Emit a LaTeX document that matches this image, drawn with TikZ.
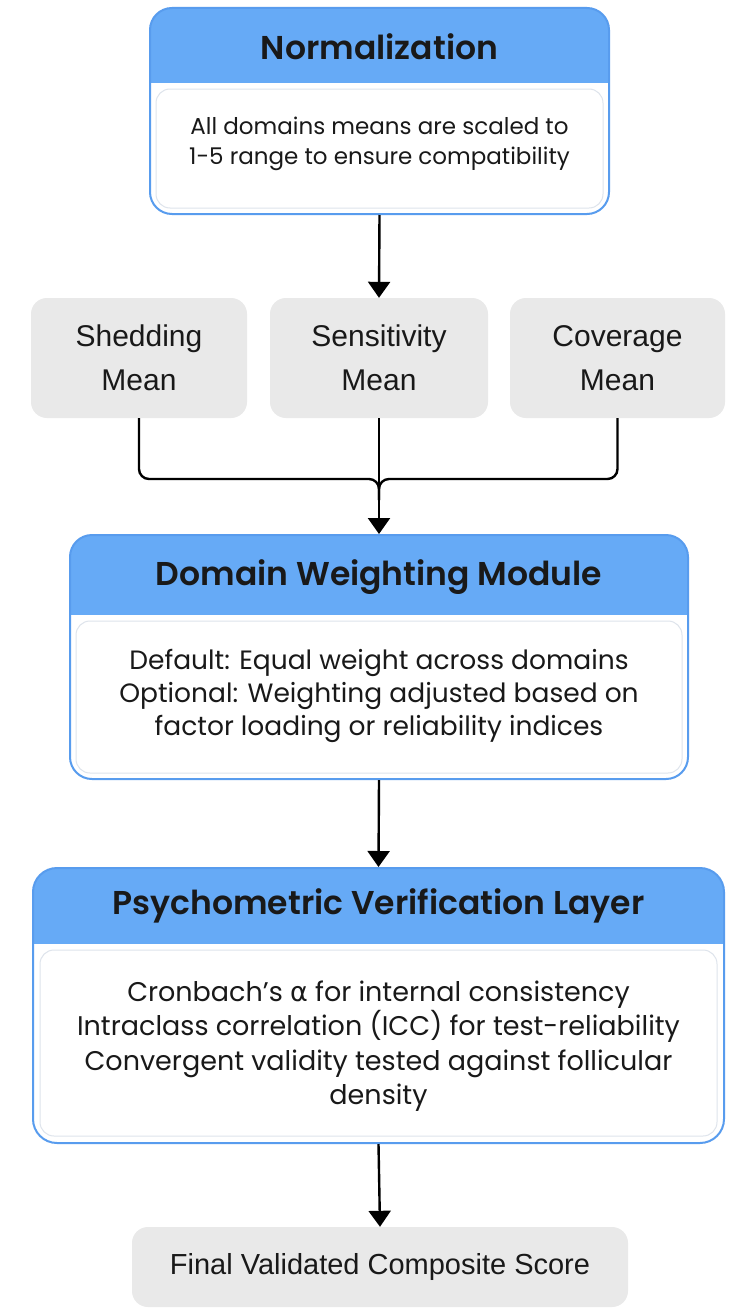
\documentclass[tikz,border=0pt]{standalone}
\usepackage{fontspec}
\usetikzlibrary{arrows.meta}
\setmainfont{Poppins}
\newfontfamily\headfont{Poppins SemiBold}
\newfontfamily\grayfont{Liberation Sans}
\newfontfamily\grkfont{DejaVu Sans}
\definecolor{headblue}{RGB}{102,170,246}
\definecolor{bordblue}{RGB}{88,156,238}
\definecolor{boxgray}{RGB}{233,233,233}
\definecolor{innerline}{RGB}{222,228,236}
\definecolor{txt}{RGB}{25,25,25}
\tikzset{
  cardbox/.style={draw=bordblue, line width=2pt, rounded corners=22pt, inner sep=0pt},
  innerbox/.style={draw=innerline, line width=1pt, rounded corners=14pt},
  headtxt/.style={font=\headfont\fontsize{33}{38}\selectfont, text=txt},
  bodytxt/.style={align=center, text=txt, inner sep=0pt},
  graybox/.style={fill=boxgray, rounded corners=16pt, inner sep=0pt, align=center,
    text=txt, font=\grayfont\fontsize{30}{44}\selectfont},
  conn/.style={line width=2.4pt, draw=black},
  arr/.style={conn, -{Triangle[width=22pt,length=16pt]}},
}
\begin{document}
\begin{tikzpicture}[x=1pt,y=-1pt]
\useasboundingbox (0,0) rectangle (750,1314);
\fill[white] (0,0) rectangle (750,1314);

% ---------- Normalization ----------
\begin{scope}
\clip[rounded corners=22pt] (150,8) rectangle (609,214);
\fill[headblue] (150,8) rectangle (609,83);
\end{scope}
\draw[innerbox] (156,89) rectangle (603,208);
\node[cardbox, minimum width=459pt, minimum height=206pt] (norm) at (379.5,111) {};
\node[headtxt] (normT) at (379.5,47) {Normalization};
\node[bodytxt, font=\fontsize{23}{29.5}\selectfont] (normB) at (379.5,144)
  {All domains means are scaled to\\1-5 range to ensure compatibility};

% ---------- Three means ----------
\node[graybox, minimum width=216pt, minimum height=120pt] (shed) at (139,358) {Shedding\\Mean};
\node[graybox, minimum width=218pt, minimum height=120pt] (sens) at (379,358) {Sensitivity\\Mean};
\node[graybox, minimum width=215pt, minimum height=120pt] (cov) at (617.5,358) {Coverage\\Mean};

\draw[arr] (norm.south) -- (sens.north);

% ---------- Domain Weighting ----------
\begin{scope}
\clip[rounded corners=22pt] (70,535) rectangle (688,779);
\fill[headblue] (70,535) rectangle (688,615);
\end{scope}
\draw[innerbox] (76,621) rectangle (682,773);
\node[cardbox, minimum width=618pt, minimum height=244pt] (dwm) at (379,657) {};
\node[headtxt] (dwmT) at (379,577) {Domain Weighting Module};
\node[bodytxt, font=\fontsize{26.5}{33}\selectfont] (dwmB) at (379,696)
  {Default: Equal weight across domains\\Optional: Weighting adjusted based on\\factor loading or reliability indices};

\coordinate (merge) at (379,500);
\draw[conn, rounded corners=10pt] (shed.south) |- (379,479) -- (merge);
\draw[conn, rounded corners=10pt] (cov.south) |- (379,479) -- (merge);
\draw[arr] (sens.south) -- (dwm.north);

% ---------- Psychometric Verification ----------
\begin{scope}
\clip[rounded corners=24pt] (33,868) rectangle (724,1143);
\fill[headblue] (33,868) rectangle (724,944);
\end{scope}
\draw[innerbox] (40,950) rectangle (717,1136);
\node[cardbox, rounded corners=24pt, minimum width=691pt, minimum height=275pt] (pvl) at (378.5,1005.5) {};
\node[headtxt] (pvlT) at (378.5,906) {Psychometric Verification Layer};
\node[bodytxt, font=\fontsize{27}{34.5}\selectfont] (pvlB) at (378.5,1046)
  {Cronbach’s {\grkfont α} for internal consistency\\Intraclass correlation (ICC) for test-reliability\\Convergent validity tested against follicular\\density};

\draw[arr] (dwm.south) -- (pvl.north);

% ---------- Final ----------
\node[graybox, minimum width=496pt, minimum height=80pt, font=\grayfont\fontsize{29}{34}\selectfont] (final) at (380,1267) {Final Validated Composite Score};
\draw[arr] (pvl.south) -- (final.north);
\end{tikzpicture}
\end{document}
